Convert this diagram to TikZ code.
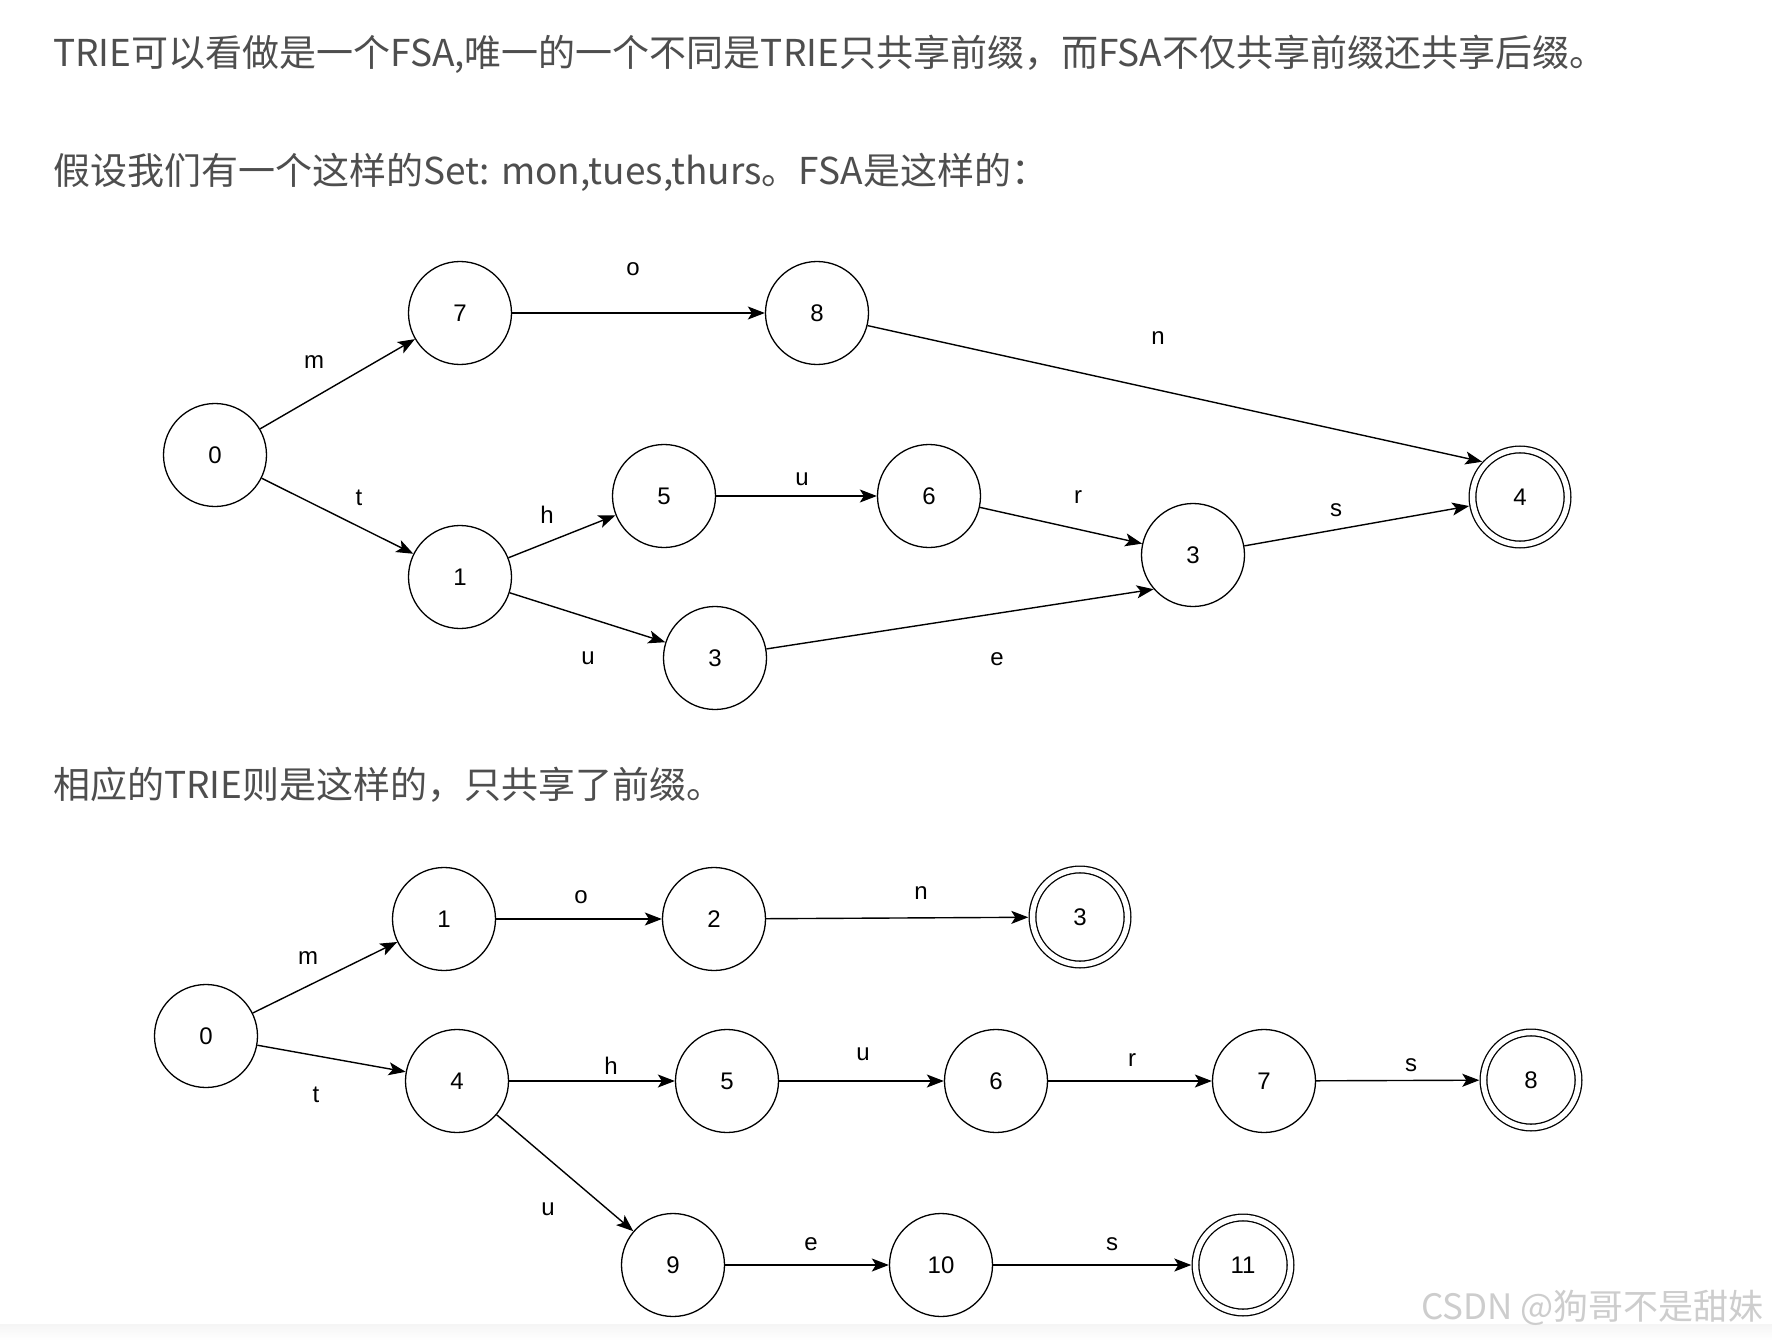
\documentclass[tikz,border=0pt]{standalone}
\usepackage{fontspec}
\setmainfont{Liberation Sans}
\newfontfamily\cjk{Noto Sans CJK SC}
\usetikzlibrary{arrows.meta}
\definecolor{txt}{RGB}{78,78,78}
\definecolor{wm}{RGB}{205,205,205}
\begin{document}
\begin{tikzpicture}[x=1pt,y=-1pt,
  st/.style={circle, draw, line width=1.3pt, minimum size=103pt, inner sep=0pt, font=\fontsize{24}{24}\selectfont},
  acc/.style={st, minimum size=95pt, double, double distance=5.4pt, outer sep=4.2pt},
  lab/.style={font=\fontsize{24}{24}\selectfont, inner sep=0pt},
  para/.style={anchor=west, inner sep=0pt, text=txt, font=\cjk\fontsize{37}{37}\selectfont},
  tr/.style={line width=1.4pt, -{Stealth[length=17pt,width=13pt,inset=4pt]}}
]
\useasboundingbox (0,0) rectangle (1772,1340);
\fill[white] (0,0) rectangle (1772,1340);
\shade[top color=black!4, bottom color=white] (0,1324) rectangle (1772,1340);

% paragraphs
\node[para] (l1) at (53,54) {TRIE可以看做是一个FSA,唯一的一个不同是TRIE只共享前缀，而FSA不仅共享前缀还共享后缀。};
\node[para] (l2) at (53,172) {假设我们有一个这样的Set: mon,tues,thurs。FSA是这样的：};
\node[para] (l3) at (53,785) {相应的TRIE则是这样的，只共享了前缀。};

% FSA
\node[st] (a0) at (215,455) {0};
\node[st] (a7) at (460,313) {7};
\node[st] (a8) at (817,313) {8};
\node[st] (a5) at (664,496) {5};
\node[st] (a6) at (929,496) {6};
\node[st] (a1) at (460,577) {1};
\node[st] (a3m) at (1193,555) {3};
\node[st] (a3l) at (715,658) {3};
\node[acc] (a4) at (1520,497) {4};

\draw[tr] (a0) -- (a7);
\draw[tr] (a7) -- (a8);
\draw[tr] (a8.346) -- (a4.137);
\draw[tr] (a0) -- (a1);
\draw[tr] (a1) -- (a5);
\draw[tr] (a5) -- (a6);
\draw[tr] (a6) -- (a3m);
\draw[tr] (a3m) -- (a4);
\draw[tr] (a1) -- (a3l);
\draw[tr] (a3l.10) -- (a3m.221);

\node[lab] (am) at (314,362) {m};
\node[lab] (ao) at (633,269) {o};
\node[lab] (an) at (1158,338) {n};
\node[lab] (at) at (359,498) {t};
\node[lab] (ah) at (547,515) {h};
\node[lab] (au1) at (802,479) {u};
\node[lab] (ar) at (1078,497) {r};
\node[lab] (as) at (1336,510) {s};
\node[lab] (au2) at (588,658) {u};
\node[lab] (ae) at (997,659) {e};

% TRIE
\node[st] (b0) at (206,1036) {0};
\node[st] (b1) at (444,919) {1};
\node[st] (b2) at (714,919) {2};
\node[acc] (b3) at (1080,917) {3};
\node[st] (b4) at (457,1081) {4};
\node[st] (b5) at (727,1081) {5};
\node[st] (b6) at (996,1081) {6};
\node[st] (b7) at (1264,1081) {7};
\node[acc] (b8) at (1531,1080) {8};
\node[st] (b9) at (673,1265) {9};
\node[st] (b10) at (941,1265) {10};
\node[acc] (b11) at (1243,1265) {11};

\draw[tr] (b0) -- (b1);
\draw[tr] (b1) -- (b2);
\draw[tr] (b2) -- (b3);
\draw[tr] (b0) -- (b4);
\draw[tr] (b4) -- (b5);
\draw[tr] (b5) -- (b6);
\draw[tr] (b6) -- (b7);
\draw[tr] (b7) -- (b8);
\draw[tr] (b4) -- (b9);
\draw[tr] (b9) -- (b10);
\draw[tr] (b10) -- (b11);

\node[lab] (bm) at (308,958) {m};
\node[lab] (bo) at (581,897) {o};
\node[lab] (bn) at (921,893) {n};
\node[lab] (bt) at (316,1095) {t};
\node[lab] (bh) at (611,1066) {h};
\node[lab] (bu1) at (863,1054) {u};
\node[lab] (br) at (1132,1060) {r};
\node[lab] (bs1) at (1411,1065) {s};
\node[lab] (bu2) at (548,1209) {u};
\node[lab] (be) at (811,1244) {e};
\node[lab] (bs2) at (1112,1244) {s};

% watermark
\node[anchor=east, inner sep=0pt, text=wm, font=\cjk\fontsize{35}{35}\selectfont] (wm) at (1764,1308) {CSDN @狗哥不是甜妹};
\end{tikzpicture}
\end{document}
